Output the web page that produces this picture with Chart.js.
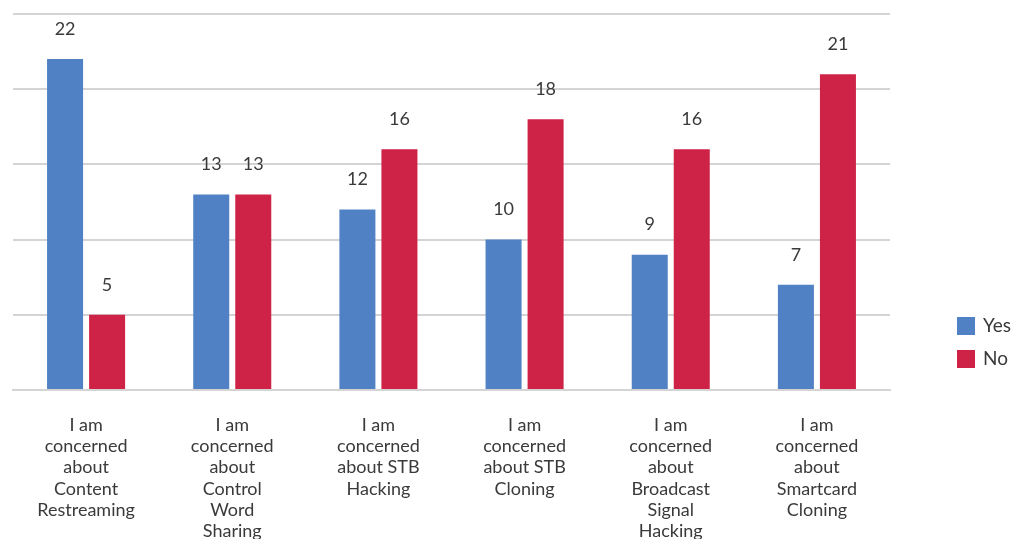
<!DOCTYPE html>
<html>
<head>
<meta charset="utf-8">
<script src="https://cdn.jsdelivr.net/npm/chart.js@4"></script>
<style>
  html, body { margin: 0; padding: 0; background: #fff; }
  #wrap { width: 1014px; height: 539px; }
</style>
</head>
<body>
<div id="wrap"><canvas id="chart"></canvas></div>
<script>
const categories = [
    ['I am', 'concerned', 'about', 'Content', 'Restreaming'],
    ['I am', 'concerned', 'about', 'Control', 'Word', 'Sharing'],
    ['I am', 'concerned', 'about STB', 'Hacking'],
    ['I am', 'concerned', 'about STB', 'Cloning'],
    ['I am', 'concerned', 'about', 'Broadcast', 'Signal', 'Hacking'],
    ['I am', 'concerned', 'about', 'Smartcard', 'Cloning']
];
const yesValues = [22, 13, 12, 10, 9, 7];
const noValues = [5, 13, 16, 18, 16, 21];
const seriesNames = ['Yes', 'No'];

const FONT = 'Lato, "Open Sans", sans-serif';
const TEXT = '#3a3a3a';

// numbers above each bar
const valueLabels = {
    id: 'valueLabels',
    afterDatasetsDraw(c) {
        const ctx = c.ctx;
        ctx.save();
        ctx.font = '18px ' + FONT;
        ctx.fillStyle = TEXT;
        ctx.textAlign = 'center';
        ctx.textBaseline = 'middle';
        c.data.datasets.forEach((ds, i) => {
            c.getDatasetMeta(i).data.forEach((bar, j) => {
                ctx.fillText(ds.data[j], bar.x, bar.y - 30);
            });
        });
        ctx.restore();
    }
};

// legend drawn to the right of the plot
const sideLegend = {
    id: 'sideLegend',
    afterDraw(c) {
        const ctx = c.ctx;
        const a = c.chartArea;
        ctx.save();
        ctx.font = '19px ' + FONT;
        ctx.textBaseline = 'middle';
        c.data.datasets.forEach((ds, i) => {
            const y = a.bottom - 64 + i * 33;
            ctx.fillStyle = ds.backgroundColor;
            ctx.fillRect(a.right + 67, y - 9, 18, 18);
            ctx.fillStyle = TEXT;
            ctx.fillText(ds.label, a.right + 93, y);
        });
        ctx.restore();
    }
};

new Chart(document.querySelector('#chart'), {
    type: 'bar',
    data: {
        labels: categories,
        datasets: [
            { label: seriesNames[0], data: yesValues, backgroundColor: '#4f81c4' },
            { label: seriesNames[1], data: noValues, backgroundColor: '#cf2247' }
        ]
    },
    options: {
        responsive: true,
        maintainAspectRatio: false,
        animation: false,
        layout: { padding: { left: 13, right: 124, top: 14, bottom: 0 } },
        categoryPercentage: 0.575,
        barPercentage: 0.857,
        plugins: {
            legend: { display: false },
            tooltip: { enabled: false }
        },
        scales: {
            x: {
                grid: { display: false },
                border: { color: '#d4d4d4', width: 2 },
                ticks: {
                    color: TEXT,
                    font: { family: FONT, size: 18, lineHeight: 1.17 },
                    padding: 17,
                    maxRotation: 0,
                    autoSkip: false
                },
                afterFit(scale) { scale.height = 149; }
            },
            y: {
                min: 0,
                max: 25,
                ticks: { display: false, stepSize: 5 },
                border: { display: false },
                grid: { color: '#d4d4d4', lineWidth: 2, drawTicks: false }
            }
        }
    },
    plugins: [valueLabels, sideLegend]
});
</script>
</body>
</html>
